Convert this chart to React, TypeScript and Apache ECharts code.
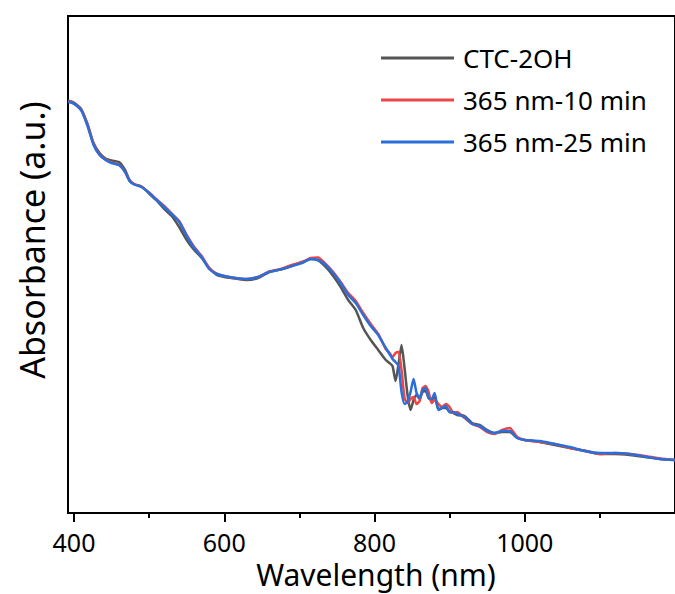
import React, { useEffect, useRef } from "react";
import * as echarts from "echarts";

const wavelength = [392, 398, 404, 410, 418, 426, 434, 442, 450, 460, 468, 474, 480, 490, 500, 510, 520, 530, 540, 550, 560, 570, 580, 590, 600, 615, 630, 645, 660, 675, 690, 705, 715, 725, 735, 745, 755, 765, 775, 785, 795, 805, 815, 820, 824, 828, 832, 836, 840, 844, 848, 852, 856, 860, 864, 868, 872, 876, 880, 885, 890, 895, 900, 905, 910, 920, 930, 940, 950, 960, 970, 980, 990, 1000, 1020, 1040, 1060, 1080, 1100, 1120, 1140, 1160, 1180, 1200];

const ctc2oh = [412.3, 411, 408, 403.5, 389, 370, 360, 354.5, 352.5, 351, 343, 333, 329, 326.5, 319.5, 312.5, 304, 297, 286, 273, 263, 255, 245, 238, 236, 234.5, 233, 235, 241, 243.5, 247, 251, 254, 252.5, 246, 237, 226, 213, 203, 185, 173, 163, 153, 150, 147, 132, 149, 168, 145, 118, 103, 113, 118, 114, 121, 122, 115, 113, 117, 104, 105, 105, 101, 100, 98, 97, 90, 88, 83, 80, 81, 81, 75, 73, 71, 68, 65, 62, 59, 59, 58, 56, 54, 53];

const uv10min = [411.5, 410.5, 407.5, 402.5, 388, 369, 358.5, 353.5, 350.5, 348, 341, 332, 329, 326, 320.5, 313.5, 307, 299.5, 292, 278, 266, 257, 245, 239.5, 237, 235, 234, 236, 241.5, 244, 248, 251.5, 255, 255.5, 249, 241, 231, 220, 212, 200, 189, 179, 164, 160, 156, 160, 161, 143, 115, 110, 114, 116, 109, 112, 125, 127, 121, 110, 113, 109, 106, 109, 106, 100, 101, 95, 89, 86, 81, 79, 83, 85, 76, 73, 71, 69, 65, 62.5, 59, 60, 59, 57, 54.5, 53];

const uv25min = [411, 410, 407, 402, 387, 368, 358, 353, 350, 348, 341, 332, 328.5, 326, 320, 313, 306, 299, 291, 277, 265, 256, 244, 239, 237, 235, 234, 236, 241, 243.5, 247, 250.5, 254, 253, 248, 240, 230, 218, 210, 198, 187, 178, 165, 159, 154, 151, 147, 121, 109, 111, 121, 134, 120, 115, 123, 125, 115, 114, 120, 103, 105, 107, 101, 101, 99, 96, 89, 87, 82, 80, 82, 82, 75, 73, 72, 69, 66, 62, 60, 60, 59, 56.5, 54, 53];

const seriesNames = ["CTC-2OH", "365 nm-10 min", "365 nm-25 min"];
const seriesColors = ["#555555", "#ee4545", "#2a6fd9"];
const majorTicks = [400, 600, 800, 1000];
const minorTicks = [500, 700, 900, 1100];

const FONT = "Noto Sans";

export default function App() {
  const ref = useRef<HTMLDivElement>(null);
  useEffect(() => {
    document.body.style.margin = "0";
    const chart = echarts.init(ref.current!, null, { renderer: "svg" });
    const sets = [ctc2oh, uv10min, uv25min];
    chart.setOption({
      animation: false,
      backgroundColor: "#ffffff",
      grid: {
        left: 68,
        top: 16,
        right: -9,
        bottom: 81,
        show: true,
        borderColor: "#000",
        borderWidth: 2,
      },
      xAxis: [
        {
          type: "value",
          min: 392,
          max: 1200,
          axisLine: { show: false },
          splitLine: { show: false },
          axisTick: {
            show: true,
            customValues: majorTicks,
            length: 9,
            lineStyle: { color: "#000", width: 2 },
          },
          axisLabel: {
            customValues: majorTicks,
            formatter: (v: number) => String(v),
            fontFamily: FONT,
            fontSize: 25,
            lineHeight: 22,
            color: "#000",
            margin: 18,
          },
        },
        {
          type: "value",
          min: 392,
          max: 1200,
          position: "bottom",
          axisLine: { show: false },
          splitLine: { show: false },
          axisTick: {
            show: true,
            customValues: minorTicks,
            length: 5,
            lineStyle: { color: "#000", width: 2 },
          },
          axisLabel: { show: false },
        },
      ],
      yAxis: {
        type: "value",
        min: 0,
        max: 497,
        axisLine: { show: false },
        axisTick: { show: false },
        axisLabel: { show: false },
        splitLine: { show: false },
      },
      legend: {
        orient: "vertical",
        left: 381,
        top: 45,
        padding: 0,
        itemWidth: 73,
        itemHeight: 3,
        itemGap: 16,
        icon: "rect",
        data: seriesNames,
        textStyle: { fontFamily: FONT, fontSize: 26, color: "#000", padding: [0, 0, 0, 4] },
      },
      graphic: [
        {
          type: "text",
          x: 376,
          y: 574,
          style: {
            text: "Wavelength (nm)",
            fontFamily: FONT,
            fontSize: 30,
            lineHeight: 28,
            fill: "#000",
            align: "center",
            verticalAlign: "middle",
          },
        },
        {
          type: "text",
          x: 32,
          y: 240,
          rotation: Math.PI / 2,
          style: {
            text: "Absorbance (a.u.)",
            fontFamily: FONT,
            fontSize: 34,
            fill: "#000",
            align: "center",
            verticalAlign: "middle",
          },
        },
      ],
      series: sets.map((vals, i) => ({
        name: seriesNames[i],
        type: "line",
        xAxisIndex: 0,
        symbol: "none",
        smooth: 0.2,
        data: wavelength.map((w, j) => [w, vals[j]]),
        lineStyle: { color: seriesColors[i], width: 2.5 },
        itemStyle: { color: seriesColors[i] },
        z: 2 + i,
      })),
    });
    return () => chart.dispose();
  }, []);
  return <div ref={ref} style={{ width: 675, height: 594 }} />;
}
